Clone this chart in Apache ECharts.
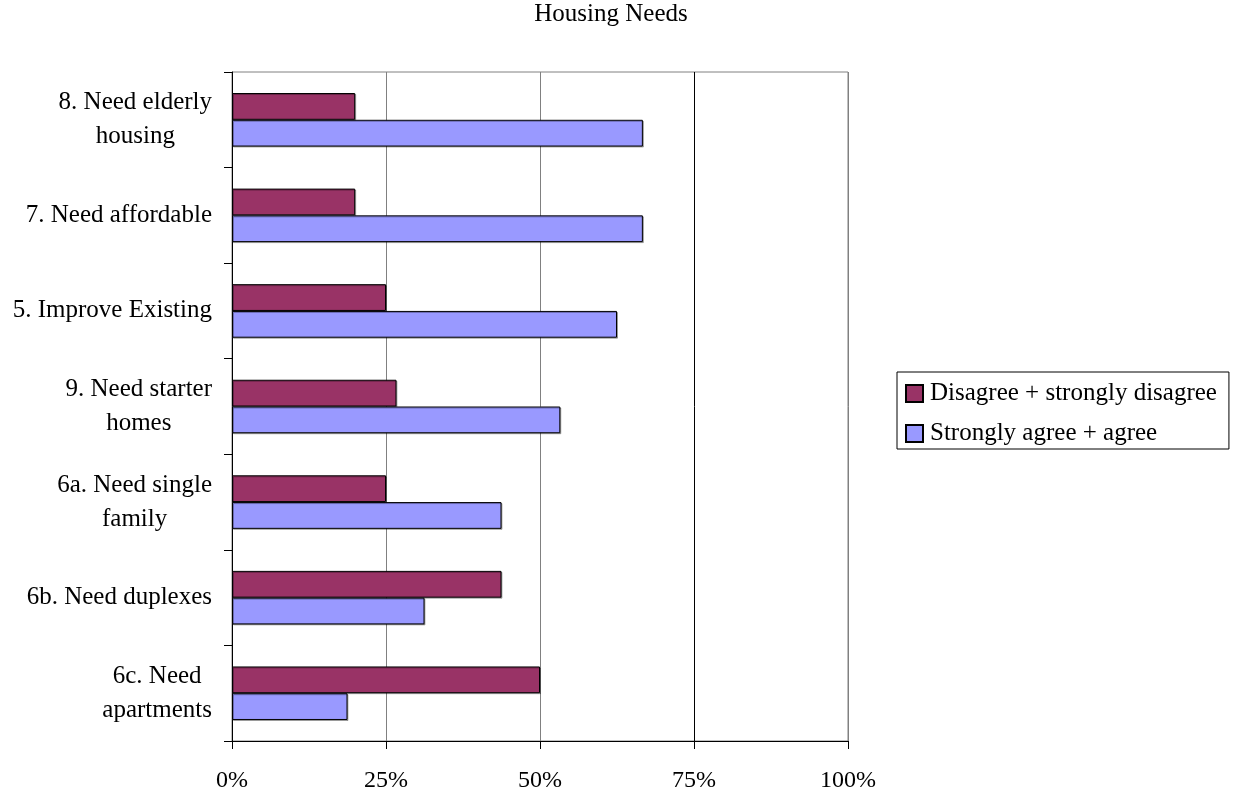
<!DOCTYPE html>
<html>
<head>
<meta charset="utf-8">
<script src="https://cdn.jsdelivr.net/npm/echarts@6/dist/echarts.min.js"></script>
<style>html,body{margin:0;padding:0;background:#fff;}#c{width:1238px;height:797px;}</style>
</head>
<body>
<div id="c"></div>
<script>
var categories = ['8. Need elderly\nhousing', '7. Need affordable', '5. Improve Existing', '9. Need starter\nhomes', '6a. Need single\nfamily', '6b. Need duplexes', '6c. Need\napartments'];
var disagree = [0.20, 0.20, 0.25, 0.267, 0.25, 0.4375, 0.50];
var agree = [0.667, 0.667, 0.625, 0.533, 0.4375, 0.3125, 0.1875];
var xTicks = ['0%', '25%', '50%', '75%', '100%'];
var seriesNames = ['Disagree + strongly disagree', 'Strongly agree + agree'];

var FONT = '"Liberation Serif", "Times New Roman", serif';
var chart = echarts.init(document.getElementById('c'));
chart.setOption({
  backgroundColor: '#fff',
  animation: false,
  title: {
    text: 'Housing Needs', left: 611, top: 2, textAlign: 'center', padding: 0,
    textStyle: { fontFamily: FONT, fontSize: 25, fontWeight: 'normal', color: '#000' }
  },
  legend: {
    orient: 'vertical', left: 897, top: 372,
    data: seriesNames,
    borderColor: '#000', borderWidth: 1,
    padding: [9, 12, 3, 8],
    itemWidth: 17, itemHeight: 17, itemGap: 15,
    icon: 'rect',
    textStyle: { fontFamily: FONT, fontSize: 25, lineHeight: 25, color: '#000', padding: [0, 0, 0, 2] }
  },
  grid: {
    left: 232, right: 390, top: 72, bottom: 56,
    show: true, borderColor: '#808080', borderWidth: 1, containLabel: false
  },
  xAxis: {
    type: 'value', min: 0, max: 1, interval: 0.25,
    axisLine: { show: true, lineStyle: { color: '#000', width: 1 } },
    axisTick: { show: true, length: 8, lineStyle: { color: '#000' } },
    axisLabel: {
      margin: 28, fontFamily: FONT, fontSize: 24, color: '#000',
      formatter: function (v) { return xTicks[Math.round(v / 0.25)]; }
    },
    splitLine: { show: true, lineStyle: { color: ['#808080', '#808080', '#808080', '#000', '#808080'], width: 1 } }
  },
  yAxis: {
    type: 'category', data: categories, inverse: true,
    axisLine: { show: true, lineStyle: { color: '#000', width: 1 } },
    axisTick: { show: true, length: 8, lineStyle: { color: '#000' } },
    axisLabel: {
      margin: 20, fontFamily: FONT, fontSize: 25, color: '#000', lineHeight: 34,
      formatter: function (v) {
        return v.split('\n').map(function (s) { return '{c|' + s + '}'; }).join('\n');
      },
      rich: { c: { align: 'center', fontFamily: FONT, fontSize: 25, lineHeight: 34, color: '#000' } }
    },
    splitLine: { show: false }
  },
  series: [
    {
      name: seriesNames[0], type: 'bar', data: disagree,
      barGap: '0%', barCategoryGap: '44%',
      itemStyle: { color: '#993366', borderColor: '#000', borderWidth: 1,
        shadowColor: 'rgba(0,0,0,0.3)', shadowOffsetX: 1, shadowOffsetY: 1, shadowBlur: 0 }
    },
    {
      name: seriesNames[1], type: 'bar', data: agree,
      barGap: '0%', barCategoryGap: '44%',
      itemStyle: { color: '#9999FF', borderColor: '#000', borderWidth: 1,
        shadowColor: 'rgba(0,0,0,0.3)', shadowOffsetX: 1, shadowOffsetY: 1, shadowBlur: 0 }
    }
  ]
});
</script>
</body>
</html>
